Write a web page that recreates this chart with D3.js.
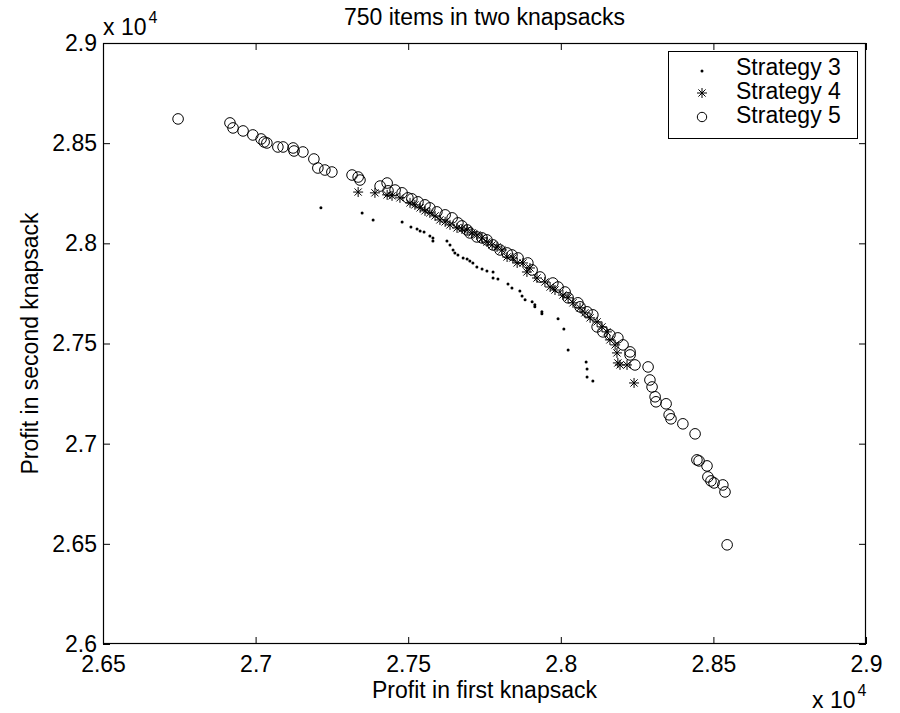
<!DOCTYPE html>
<html>
<head>
<meta charset="utf-8">
<script src="https://cdn.jsdelivr.net/npm/d3@7"></script>
<style>
  html, body { margin: 0; padding: 0; background: #fff; }
  svg { display: block; font-family: "Liberation Sans", Arial, Helvetica, sans-serif; }
</style>
</head>
<body>
<svg id="chart" width="900" height="713"></svg>
<script>
// ---------- data ----------
const titleText = "750 items in two knapsacks";
const xLabelText = "Profit in first knapsack";
const yLabelText = "Profit in second knapsack";
const xTicks = [26500, 27000, 27500, 28000, 28500, 29000];
const yTicks = [26000, 26500, 27000, 27500, 28000, 28500, 29000];
const seriesNames = ["Strategy 3", "Strategy 4", "Strategy 5"];

const s3x = [27214,27349,27385,27480,27509,27529,27539,27552,27571,27581,27581,27627,27637,27647,27653,27663,27680,27693,27702,27712,27725,27742,27758,27778,27778,27794,27827,27840,27866,27873,27883,27906,27915,27915,27938,27938,27991,28010,28024,28083,28086,28086,28105];
const s3y = [28177,28152,28117,28107,28082,28072,28062,28057,28037,28027,28012,28012,27992,27967,27952,27942,27927,27922,27912,27902,27882,27872,27862,27857,27827,27822,27797,27777,27762,27737,27718,27708,27693,27683,27658,27648,27623,27573,27468,27408,27373,27333,27313];

const s4x = [27336,27391,27431,27447,27473,27506,27522,27539,27555,27571,27588,27604,27621,27637,27660,27676,27693,27709,27725,27742,27758,27775,27791,27807,27824,27843,27857,27876,27889,27899,27922,27948,27965,27981,28007,28024,28040,28063,28079,28096,28119,28135,28151,28161,28178,28184,28187,28194,28217,28240];
const s4y = [28256,28252,28242,28237,28227,28202,28192,28177,28162,28152,28137,28117,28107,28092,28077,28072,28067,28052,28042,28027,28007,27992,27982,27967,27932,27927,27902,27902,27857,27877,27827,27807,27782,27767,27742,27728,27703,27678,27653,27628,27608,27583,27558,27518,27493,27453,27403,27393,27393,27303];

const s5x = [26746,26916,26926,26959,26991,27018,27028,27037,27073,27090,27123,27126,27155,27191,27204,27227,27250,27316,27336,27342,27408,27431,27434,27457,27480,27499,27512,27532,27555,27571,27594,27621,27644,27663,27676,27693,27702,27725,27742,27758,27778,27801,27824,27840,27860,27892,27906,27932,27974,27991,28014,28024,28056,28063,28086,28105,28119,28138,28161,28187,28204,28227,28227,28243,28286,28292,28299,28309,28312,28345,28355,28361,28400,28440,28446,28453,28479,28482,28492,28502,28531,28538,28545];
const s5y = [28621,28601,28576,28561,28541,28521,28506,28501,28481,28481,28476,28461,28456,28421,28376,28366,28356,28341,28331,28316,28286,28301,28262,28266,28252,28227,28222,28207,28192,28177,28157,28142,28127,28102,28087,28067,28052,28032,28027,28017,27992,27967,27952,27942,27927,27902,27867,27832,27802,27782,27757,27728,27703,27683,27658,27643,27583,27558,27543,27528,27493,27458,27443,27393,27383,27318,27283,27234,27209,27199,27144,27124,27099,27049,26919,26914,26889,26834,26814,26804,26794,26759,26495];

// ---------- layout ----------
const W = 900, H = 713;
const L = 103, R = 866, T = 43, B = 644;
const FS = 23;
const svg = d3.select("#chart");

const x = d3.scaleLinear().domain([26500, 29000]).range([L, R]);
const y = d3.scaleLinear().domain([26000, 29000]).range([B, T]);
const fmt = d => String(+(d / 10000).toFixed(2));

// axes
const gx = svg.append("g").attr("transform", `translate(0,${B})`)
  .call(d3.axisBottom(x).tickValues(xTicks).tickSize(-7).tickSizeOuter(0).tickPadding(12).tickFormat(fmt));
const gy = svg.append("g").attr("transform", `translate(${L},0)`)
  .call(d3.axisLeft(y).tickValues(yTicks).tickSize(-7).tickSizeOuter(0).tickPadding(6).tickFormat(fmt));
const gxt = svg.append("g").attr("transform", `translate(0,${T})`)
  .call(d3.axisTop(x).tickValues(xTicks).tickSize(-7).tickSizeOuter(0).tickFormat(""));
const gyr = svg.append("g").attr("transform", `translate(${R},0)`)
  .call(d3.axisRight(y).tickValues(yTicks).tickSize(-7).tickSizeOuter(0).tickFormat(""));
[gx, gy, gxt, gyr].forEach(g => {
  g.select(".domain").remove();
  g.selectAll("line").attr("stroke", "#000").attr("stroke-width", 1);
  g.selectAll("text").attr("font-size", FS).attr("fill", "#000")
    .attr("font-family", '"Liberation Sans", Arial, sans-serif');
});

// box
svg.append("rect").attr("x", L + 0.5).attr("y", T + 0.5)
  .attr("width", R - L - 1).attr("height", B - T - 1)
  .attr("fill", "none").attr("stroke", "#000").attr("stroke-width", 1.2);

// exponent labels
function expLabel(xp, yb) {
  const t = svg.append("text").attr("x", xp).attr("y", yb).attr("font-size", FS).attr("fill", "#000");
  t.append("tspan").text("x 10");
  t.append("tspan").attr("font-size", 16).attr("dy", -12).attr("dx", 2).text("4");
}
expLabel(L, 35);
expLabel(812, 708);

// title & labels
svg.append("text").attr("x", (L + R) / 2).attr("y", 25).attr("text-anchor", "middle")
  .attr("font-size", FS).attr("fill", "#000").text(titleText);
svg.append("text").attr("x", (L + R) / 2).attr("y", 698).attr("text-anchor", "middle")
  .attr("font-size", FS).attr("fill", "#000").text(xLabelText);
svg.append("text").attr("transform", `translate(38,${(T + B) / 2}) rotate(-90)`)
  .attr("text-anchor", "middle").attr("font-size", FS).attr("fill", "#000").text(yLabelText);

// markers
const starPath = "M-5,0H5M0,-5V5M-3.6,-3.6L3.6,3.6M-3.6,3.6L3.6,-3.6";
const plot = svg.append("g");
plot.selectAll("circle.s5").data(d3.zip(s5x, s5y)).join("circle")
  .attr("class", "s5").attr("cx", d => x(d[0])).attr("cy", d => y(d[1])).attr("r", 5.3)
  .attr("fill", "none").attr("stroke", "#000").attr("stroke-width", 1);
plot.selectAll("path.s4").data(d3.zip(s4x, s4y)).join("path")
  .attr("class", "s4").attr("d", starPath)
  .attr("transform", d => `translate(${x(d[0])},${y(d[1])})`)
  .attr("fill", "none").attr("stroke", "#000").attr("stroke-width", 1);
plot.selectAll("circle.s3").data(d3.zip(s3x, s3y)).join("circle")
  .attr("class", "s3").attr("cx", d => x(d[0])).attr("cy", d => y(d[1])).attr("r", 1.5)
  .attr("fill", "#000");

// legend
const lg = svg.append("g");
lg.append("rect").attr("x", 668.5).attr("y", 51.5).attr("width", 189).attr("height", 87)
  .attr("fill", "#fff").attr("stroke", "#000").attr("stroke-width", 1);
const rows = [75, 99, 123];
seriesNames.forEach((name, i) => {
  lg.append("text").attr("x", 736).attr("y", rows[i]).attr("font-size", FS).attr("fill", "#000").text(name);
  const my = rows[i] - 4;
  if (i === 0) lg.append("circle").attr("cx", 702).attr("cy", my).attr("r", 1.5).attr("fill", "#000");
  if (i === 1) lg.append("path").attr("d", starPath).attr("transform", `translate(702,${my - 2})`)
    .attr("fill", "none").attr("stroke", "#000").attr("stroke-width", 1);
  if (i === 2) lg.append("circle").attr("cx", 702).attr("cy", my - 2).attr("r", 4.7)
    .attr("fill", "none").attr("stroke", "#000").attr("stroke-width", 1);
});
</script>
</body>
</html>
